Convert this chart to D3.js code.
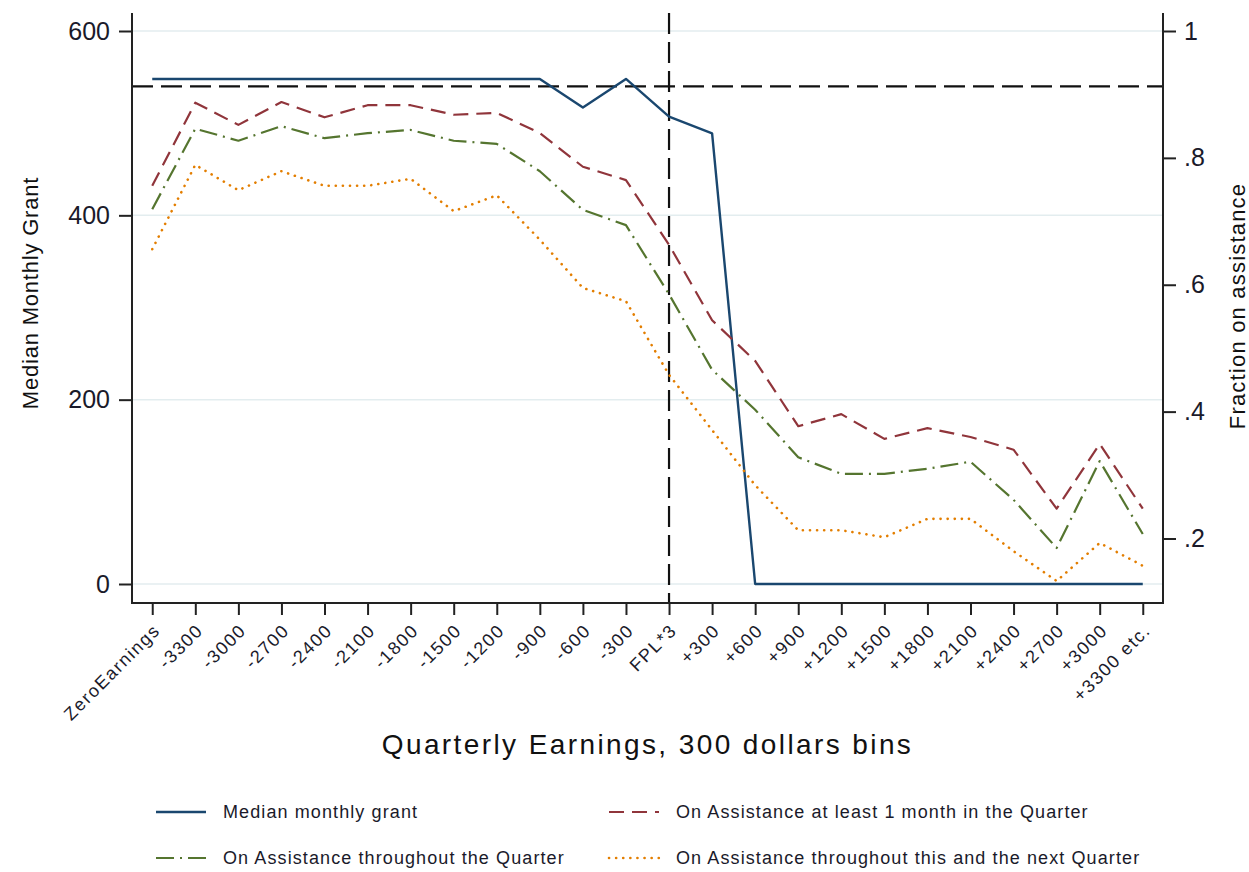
<!DOCTYPE html>
<html>
<head>
<meta charset="utf-8">
<script src="https://cdn.jsdelivr.net/npm/d3@7"></script>
<style>
  body { margin: 0; background: #fff; }
  svg { display: block; font-family: "Liberation Sans", Arial, sans-serif; }
</style>
</head>
<body>
<svg id="chart" width="1249" height="872"></svg>
<script>
// bins of quarterly earnings relative to FPL*3
const categories = ["ZeroEarnings", "-3300", "-3000", "-2700", "-2400", "-2100", "-1800", "-1500",
  "-1200", "-900", "-600", "-300", "FPL*3", "+300", "+600", "+900", "+1200", "+1500", "+1800",
  "+2100", "+2400", "+2700", "+3000", "+3300 etc."];

// left axis (dollars)
const medianGrant = [548, 548, 548, 548, 548, 548, 548, 548, 548, 548, 517, 548, 507, 489,
  0, 0, 0, 0, 0, 0, 0, 0, 0, 0];

// right axis (fractions)
const atLeastOneMonth = [0.756, 0.887, 0.852, 0.888, 0.864, 0.883, 0.883, 0.868, 0.871, 0.839,
  0.786, 0.765, 0.663, 0.544, 0.480, 0.377, 0.396, 0.357, 0.374, 0.360, 0.340, 0.247, 0.349, 0.247];
const throughoutQuarter = [0.719, 0.846, 0.827, 0.850, 0.831, 0.839, 0.844, 0.827, 0.822, 0.779,
  0.718, 0.694, 0.585, 0.466, 0.403, 0.328, 0.302, 0.302, 0.310, 0.321, 0.261, 0.185, 0.322, 0.207];
const thisAndNext = [0.656, 0.789, 0.749, 0.779, 0.756, 0.756, 0.767, 0.716, 0.741, 0.671,
  0.595, 0.574, 0.458, 0.371, 0.284, 0.213, 0.213, 0.202, 0.231, 0.231, 0.180, 0.133, 0.193, 0.157];

const leftTicks = [0, 200, 400, 600];
const rightTicks = [0.2, 0.4, 0.6, 0.8, 1];
const refGrant = 540;
const refCategory = "FPL*3";

const legendLabels = ["Median monthly grant", "On Assistance at least 1 month in the Quarter",
  "On Assistance throughout the Quarter", "On Assistance throughout this and the next Quarter"];

// Colors (stata s2color)
const colors = ["#1a476f", "#90353b", "#55752f", "#e37e00"];
const dashes = [null, "15,8", "18,6,2,6", "0.1,7"];
const widths = [2.4, 2.2, 2.2, 2.6];

const plot = { left: 132, right: 1163, top: 13, bottom: 603 };
const svg = d3.select("#chart");

const x = d3.scalePoint().domain(categories).range([plot.left, plot.right]).padding(0.47);
const yL = d3.scaleLinear().domain([0, 600]).range([584, 31]);
const yR = d3.scaleLinear().domain([0.2, 1]).range([538.5, 31]);

// Gridlines
svg.append("g")
  .selectAll("line")
  .data(leftTicks)
  .join("line")
  .attr("x1", plot.left).attr("x2", plot.right)
  .attr("y1", d => yL(d)).attr("y2", d => yL(d))
  .attr("stroke", "#e3edef")
  .attr("stroke-width", 1.5);

// Reference lines
svg.append("line")
  .attr("x1", plot.left).attr("x2", plot.right)
  .attr("y1", yL(refGrant)).attr("y2", yL(refGrant))
  .attr("stroke", "#111").attr("stroke-width", 2.2)
  .attr("stroke-dasharray", "21,8");
svg.append("line")
  .attr("x1", x(refCategory)).attr("x2", x(refCategory))
  .attr("y1", plot.top).attr("y2", plot.bottom)
  .attr("stroke", "#111").attr("stroke-width", 2.2)
  .attr("stroke-dasharray", "21,8");

// Series
const series = [
  { values: medianGrant, y: yL },
  { values: atLeastOneMonth, y: yR },
  { values: throughoutQuarter, y: yR },
  { values: thisAndNext, y: yR }
];

series.forEach((s, k) => {
  const line = d3.line()
    .x((d, i) => x(categories[i]))
    .y(d => s.y(d));
  svg.append("path")
    .datum(s.values)
    .attr("d", line)
    .attr("fill", "none")
    .attr("stroke", colors[k])
    .attr("stroke-width", widths[k])
    .attr("stroke-dasharray", dashes[k])
    .attr("stroke-linecap", k === 3 ? "round" : "butt")
    .attr("stroke-linejoin", "round");
});

// Axes
const axisColor = "#222";
const tickFont = "25px";

const left = svg.append("g")
  .attr("transform", `translate(${plot.left},0)`)
  .call(d3.axisLeft(yL).tickValues(leftTicks).tickSize(13).tickPadding(9).tickSizeOuter(0));
const right = svg.append("g")
  .attr("transform", `translate(${plot.right},0)`)
  .call(d3.axisRight(yR).tickValues(rightTicks).tickSize(13).tickPadding(8).tickSizeOuter(0)
    .tickFormat(d => d === 1 ? "1" : d3.format(".1f")(d).replace(/^0/, "")));
const bottom = svg.append("g")
  .attr("transform", `translate(0,${plot.bottom})`)
  .call(d3.axisBottom(x).tickSize(12).tickSizeOuter(0));

[left, right, bottom].forEach(g => {
  g.select(".domain").remove();
  g.selectAll(".tick line").attr("stroke", axisColor).attr("stroke-width", 2);
  g.selectAll(".tick text").attr("fill", "#1a1a2a").style("font-size", tickFont);
});

bottom.selectAll(".tick text")
  .style("font-size", "18px")
  .style("letter-spacing", "1.6px")
  .attr("text-anchor", "end")
  .attr("y", 0).attr("dy", "0.35em")
  .attr("transform", "translate(4,24) rotate(-45)");

// Axis lines
svg.append("path")
  .attr("d", `M${plot.left},${plot.top}V${plot.bottom}H${plot.right}V${plot.top}`)
  .attr("fill", "none")
  .attr("stroke", axisColor)
  .attr("stroke-width", 2);

// Axis titles
svg.append("text")
  .attr("transform", "translate(38,293) rotate(-90)")
  .attr("text-anchor", "middle")
  .style("font-size", "22px")
  .style("letter-spacing", "0.8px")
  .attr("fill", "#111")
  .text("Median Monthly Grant");

svg.append("text")
  .attr("transform", "translate(1245,306) rotate(-90)")
  .attr("text-anchor", "middle")
  .style("font-size", "22px")
  .style("letter-spacing", "1.2px")
  .attr("fill", "#111")
  .text("Fraction on assistance");

svg.append("text")
  .attr("x", (plot.left + plot.right) / 2)
  .attr("y", 754)
  .attr("text-anchor", "middle")
  .style("font-size", "28px")
  .style("letter-spacing", "2.4px")
  .attr("fill", "#111")
  .text("Quarterly Earnings, 300 dollars bins");

// Legend
const legendPos = [[156, 812], [609, 812], [156, 858], [609, 858]];
const legend = svg.append("g")
  .selectAll("g")
  .data(legendLabels)
  .join("g")
  .attr("transform", (d, i) => `translate(${legendPos[i][0]},${legendPos[i][1]})`);

legend.append("line")
  .attr("x1", 0).attr("x2", 50)
  .attr("stroke", (d, i) => colors[i])
  .attr("stroke-width", (d, i) => widths[i])
  .attr("stroke-dasharray", (d, i) => dashes[i])
  .attr("stroke-linecap", (d, i) => i === 3 ? "round" : "butt");

legend.append("text")
  .attr("x", 67)
  .attr("dy", "0.35em")
  .style("font-size", "18px")
  .style("letter-spacing", "1.1px")
  .attr("fill", "#1a1a2a")
  .text(d => d);
</script>
</body>
</html>
